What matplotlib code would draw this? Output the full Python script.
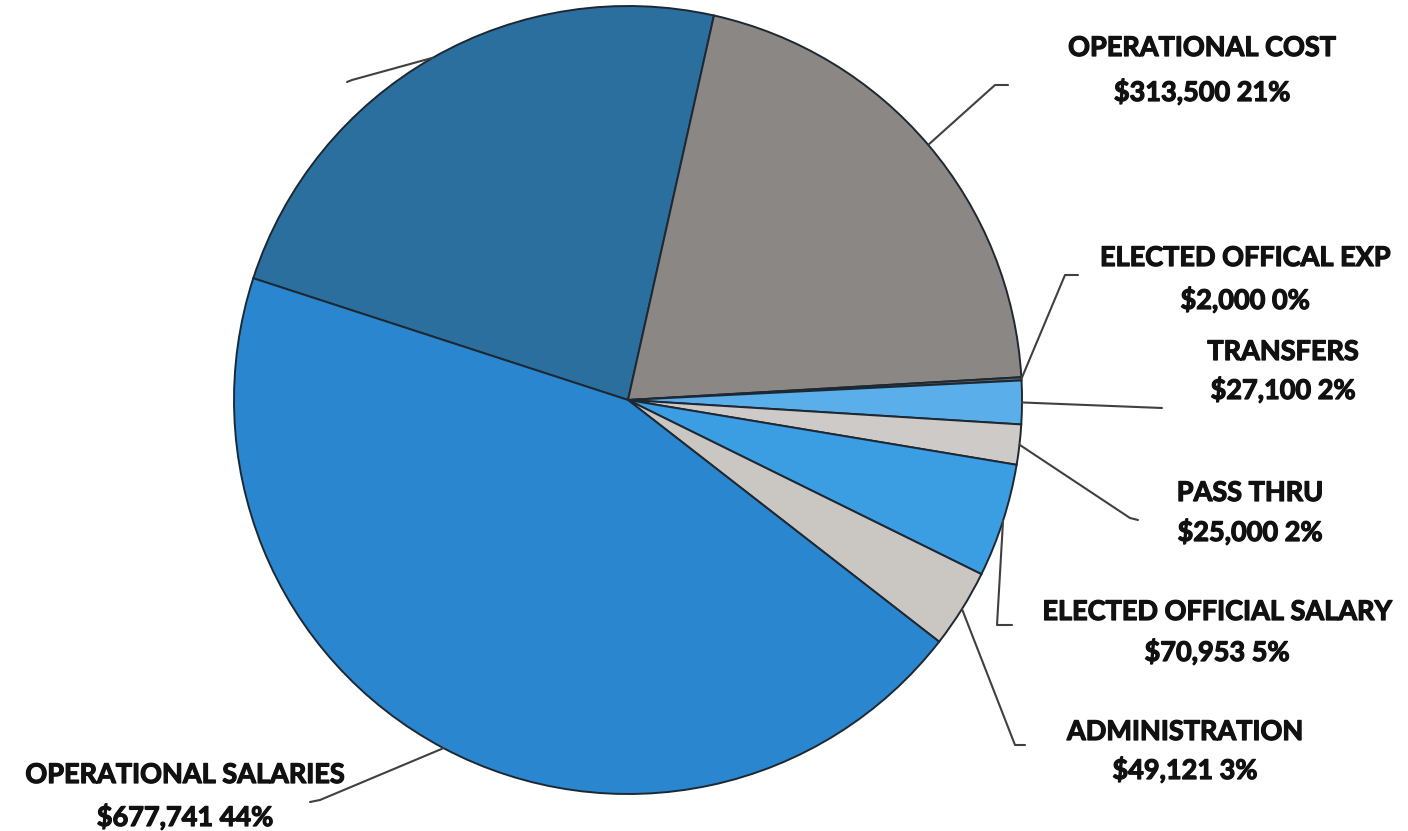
import matplotlib
matplotlib.use('Agg')
import matplotlib.pyplot as plt
import matplotlib.patheffects as pe
import numpy as np

# Budget breakdown (clockwise from the upper-left slice)
labels = ['', 'OPERATIONAL COST', 'ELECTED OFFICAL EXP', 'TRANSFERS', 'PASS THRU',
          'ELECTED OFFICIAL SALARY', 'ADMINISTRATION', 'OPERATIONAL SALARIES']
amounts = [358000, 313500, 2000, 27100, 25000, 70953, 49121, 677741]
colors = ['#2b6f9f', '#8a8784', '#5f6468', '#5aaeea', '#cdcac7',
          '#3b9de2', '#cac6c2', '#2a87cf']

W, H = 1408, 831
CX, CY, R = 628, 400, 394

# leader line knee / end points and label centres, in pixel coordinates (y down)
knees = [(352, 80), (995, 85), (1065, 275), (1162, 408), (1130, 518),
         (997, 625), (1015, 745), (320, 800)]
ends = [(347, 82), (1008, 85), (1078, 275), (1162, 408), (1138, 520),
        (1012, 625), (1025, 745), (310, 802)]
text_pos = [None, (1202, 48, 92), (1245, 258, 300), (1283, 352, 390),
            (1250, 493, 532), (1217, 612, 652), (1185, 732, 770), (185, 775, 817)]

plt.rcParams['font.family'] = ['Lato', 'DejaVu Sans']

fig = plt.figure(figsize=(W / 100, H / 100), dpi=100)
ax = fig.add_axes([0, 0, 1, 1])

wedges, _ = ax.pie(amounts, colors=colors, startangle=162, counterclock=False,
                   center=(CX, H - CY), radius=R, frame=True,
                   wedgeprops=dict(edgecolor='#1d2833', linewidth=1.4))
ax.set_xlim(0, W)
ax.set_ylim(0, H)
ax.set_aspect('equal')
ax.axis('off')

# slightly heavier lettering
heavy = [pe.withStroke(linewidth=0.9, foreground='#111111')]

total = sum(amounts)
for i, w in enumerate(wedges):
    mid = np.deg2rad((w.theta1 + w.theta2) / 2)
    x0 = CX + R * np.cos(mid)
    y0 = (H - CY) + R * np.sin(mid)
    kx, ky = knees[i]
    ex, ey = ends[i]
    ax.plot([x0, kx, ex], [y0, H - ky, H - ey], color='#404040', lw=1.5,
            solid_capstyle='round')
    if text_pos[i] is None:
        continue
    tx, ty1, ty2 = text_pos[i]
    pct = round(amounts[i] / total * 100)
    ax.text(tx, H - ty1, labels[i], ha='center', va='center', fontsize=19.5,
            fontweight='bold', color='#111111', path_effects=heavy)
    ax.text(tx, H - ty2, f'${amounts[i]:,} {pct}%', ha='center', va='center',
            fontsize=19.5, fontweight='bold', color='#111111', path_effects=heavy)

fig.savefig('out.png', dpi=100, facecolor='white')
